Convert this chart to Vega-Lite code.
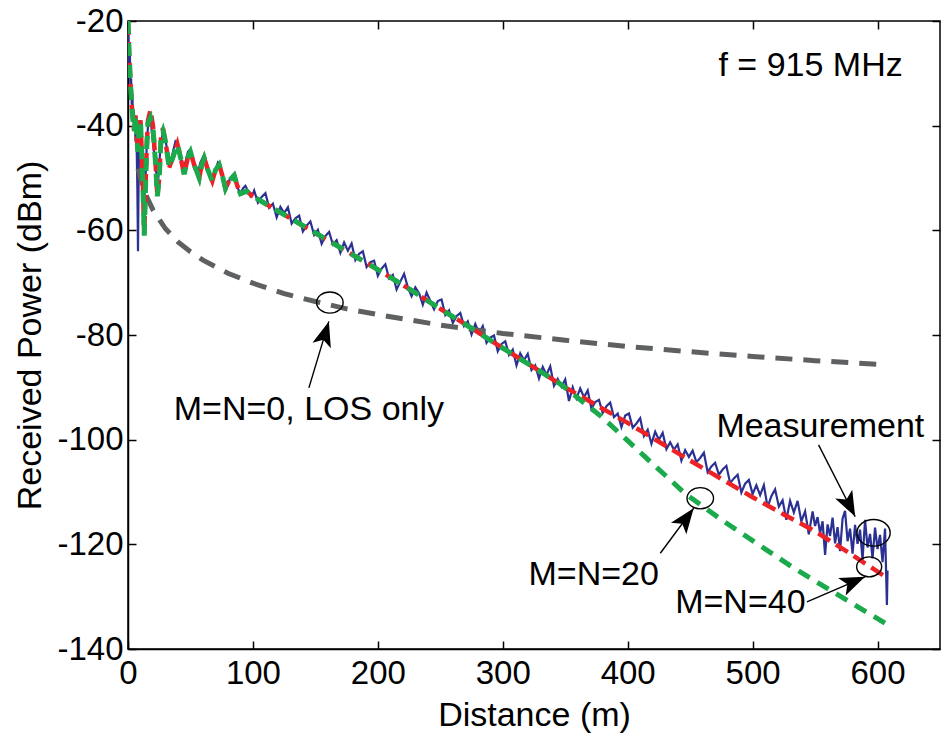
{
  "$schema": "https://vega.github.io/schema/vega-lite/v6.json",
  "width": 812,
  "height": 628,
  "autosize": "none",
  "padding": {"left": 128, "top": 21, "right": 1, "bottom": 96},
  "background": "white",
  "config": {
    "view": {"stroke": "black", "strokeWidth": 1.5},
    "font": "Liberation Sans",
    "axis": {
      "grid": false,
      "domainColor": "black",
      "domainWidth": 1.5,
      "tickColor": "black",
      "tickWidth": 1.5,
      "tickSize": -8,
      "labelFont": "Liberation Sans",
      "labelFontSize": 33,
      "labelColor": "black",
      "titleFont": "Liberation Sans",
      "titleFontSize": 34,
      "titleFontWeight": "normal",
      "titleColor": "black"
    }
  },
  "datasets": {
    "measurement": [
      {"d":0,"p":-20},{"d":0.5,"p":-24},{"d":1,"p":-28},{"d":1.5,"p":-26},{"d":2,"p":-33},{"d":2.5,"p":-31},{"d":3,"p":-36},{"d":3.5,"p":-34},{"d":4,"p":-39},{"d":4.5,"p":-37},{"d":5,"p":-41},{"d":5.5,"p":-38},{"d":6,"p":-43},{"d":6.5,"p":-40},{"d":7,"p":-45},{"d":7.5,"p":-52},{"d":8,"p":-64},{"d":8.5,"p":-50},{"d":9,"p":-42},{"d":10,"p":-39},{"d":11,"p":-43},{"d":12,"p":-47},{"d":13,"p":-55},{"d":14,"p":-50},{"d":15,"p":-44},{"d":16,"p":-40},{"d":17,"p":-38},{"d":18,"p":-38.5},{"d":19,"p":-41},{"d":20,"p":-43},{"d":22,"p":-48},{"d":24,"p":-51},{"d":26,"p":-44},{"d":28,"p":-41},{"d":30,"p":-42.5},{"d":32,"p":-46},{"d":34,"p":-47.5},{"d":36,"p":-45},{"d":38,"p":-43},{"d":40,"p":-43.5},{"d":42,"p":-46},{"d":44,"p":-48},{"d":46,"p":-47},{"d":48,"p":-45},{"d":50,"p":-44.5},{"d":52,"p":-46},{"d":54,"p":-48.5},{"d":56,"p":-49},{"d":58,"p":-47},{"d":60,"p":-46},{"d":62,"p":-46.5},{"d":64,"p":-48},{"d":66,"p":-50},{"d":68,"p":-50.5},{"d":70,"p":-48.5},{"d":72,"p":-47},{"d":74,"p":-47.5},{"d":76,"p":-50},{"d":78,"p":-51.5},{"d":80,"p":-51},{"d":82,"p":-50},{"d":84,"p":-49.5},{"d":86,"p":-50.5},{"d":88,"p":-52},{"d":90,"p":-53},{"d":92,"p":-52},{"d":94,"p":-51.5},{"d":96,"p":-52.5},{"d":98,"p":-53.5},{"d":100,"p":-53},
      {"d":101,"p":-52.4},{"d":104,"p":-54.7},{"d":107,"p":-53.6},{"d":110,"p":-52.9},{"d":113,"p":-55.7},{"d":116,"p":-54.9},{"d":119,"p":-57.5},{"d":122,"p":-55.5},{"d":125,"p":-56.7},{"d":128,"p":-55.6},{"d":131,"p":-58.7},{"d":134,"p":-57.7},{"d":137,"p":-57.2},{"d":140,"p":-60.2},{"d":143,"p":-59.1},{"d":146,"p":-58.3},{"d":149,"p":-60.9},
      {"d":152,"p":-59.9},{"d":155,"p":-62.6},{"d":158,"p":-61.1},{"d":161,"p":-60.3},{"d":164,"p":-62.7},{"d":167,"p":-61.9},{"d":170,"p":-64.3},{"d":173,"p":-62.3},{"d":176,"p":-63.9},{"d":179,"p":-62.5},{"d":182,"p":-65.7},{"d":185,"p":-64.5},{"d":188,"p":-64.0},{"d":191,"p":-67.0},{"d":194,"p":-66.1},{"d":197,"p":-65.8},
      {"d":200,"p":-68.7},{"d":203,"p":-67.3},{"d":206,"p":-66.5},{"d":209,"p":-69.2},{"d":212,"p":-68.5},{"d":215,"p":-71.3},{"d":218,"p":-69.8},{"d":221,"p":-68.3},{"d":224,"p":-70.9},{"d":227,"p":-72.6},{"d":230,"p":-70.9},{"d":233,"p":-72.0},{"d":236,"p":-74.2},{"d":239,"p":-71.9},{"d":242,"p":-73.5},{"d":245,"p":-75.1},{"d":248,"p":-73.5},
      {"d":251,"p":-73.2},{"d":254,"p":-76.2},{"d":257,"p":-75.3},{"d":260,"p":-77.7},{"d":263,"p":-76.4},{"d":266,"p":-75.8},{"d":269,"p":-78.3},{"d":272,"p":-77.4},{"d":275,"p":-79.9},{"d":278,"p":-77.9},{"d":281,"p":-79.6},{"d":284,"p":-78.3},{"d":287,"p":-81.5},{"d":290,"p":-80.5},{"d":293,"p":-80.1},{"d":296,"p":-83.1},{"d":299,"p":-81.7},
      {"d":302,"p":-81.2},{"d":305,"p":-83.8},{"d":308,"p":-82.8},{"d":311,"p":-85.8},{"d":314,"p":-83.5},{"d":317,"p":-84.8},{"d":320,"p":-83.6},{"d":323,"p":-86.7},{"d":326,"p":-85.8},{"d":329,"p":-88.3},{"d":332,"p":-86.1},{"d":335,"p":-87.6},{"d":338,"p":-86.0},{"d":341,"p":-89.7},{"d":344,"p":-88.4},{"d":347,"p":-89.9},
      {"d":350,"p":-88.5},{"d":353,"p":-92.6},{"d":356,"p":-90.0},{"d":359,"p":-92.1},{"d":362,"p":-90.2},{"d":365,"p":-91.9},{"d":368,"p":-90.6},{"d":371,"p":-94.1},{"d":374,"p":-92.8},{"d":377,"p":-92.4},{"d":380,"p":-94.9},{"d":383,"p":-93.6},{"d":386,"p":-92.9},{"d":389,"p":-95.7},{"d":392,"p":-95.0},{"d":395,"p":-97.6},{"d":398,"p":-95.4},
      {"d":401,"p":-95.0},{"d":404,"p":-97.7},{"d":407,"p":-96.9},{"d":410,"p":-95.9},{"d":413,"p":-99.3},{"d":416,"p":-98.1},{"d":419,"p":-100.8},{"d":422,"p":-98.5},{"d":425,"p":-100.0},{"d":428,"p":-98.7},{"d":431,"p":-101.8},{"d":434,"p":-100.5},{"d":437,"p":-101.9},{"d":440,"p":-100.9},{"d":443,"p":-104.0},{"d":446,"p":-102.0},{"d":449,"p":-103.3},
      {"d":452,"p":-102.1},{"d":455,"p":-104.3},{"d":458,"p":-103.5},{"d":461,"p":-102.5},{"d":464,"p":-106.2},{"d":467,"p":-105.1},{"d":470,"p":-104.4},{"d":473,"p":-106.7},{"d":476,"p":-105.7},{"d":479,"p":-105.0},{"d":482,"p":-108.3},{"d":485,"p":-107.4},{"d":488,"p":-106.7},{"d":491,"p":-110.1},{"d":494,"p":-108.4},{"d":497,"p":-107.7},
      {"d":500,"p":-110.4},{"d":503,"p":-108.7},{"d":506,"p":-110.6},{"d":509,"p":-108.7},{"d":512,"p":-112.9},{"d":515,"p":-110.8},{"d":518,"p":-109.5},{"d":521,"p":-112.8},{"d":524,"p":-111.6},{"d":527,"p":-115.3},{"d":530,"p":-111.7},{"d":533,"p":-113.9},{"d":536,"p":-111.7},{"d":539,"p":-115.6},{"d":542,"p":-113.7},{"d":545,"p":-118.1},{"d":548,"p":-113.7},
      {"d":550,"p":-116.5},{"d":552,"p":-114.8},{"d":554,"p":-117.9},{"d":556,"p":-115.6},{"d":558,"p":-122.0},{"d":560,"p":-116.2},{"d":562,"p":-118.4},{"d":564,"p":-114.9},{"d":566,"p":-119.8},{"d":568,"p":-116.7},{"d":570,"p":-121.3},{"d":572,"p":-115.1},{"d":574,"p":-113.6},{"d":576,"p":-119.4},{"d":578,"p":-117.0},{"d":580,"p":-121.8},{"d":582,"p":-116.3},{"d":584,"p":-119.9},{"d":586,"p":-117.2},{"d":588,"p":-123.0},{"d":590,"p":-115.3},{"d":592,"p":-120.6},{"d":594,"p":-118.0},{"d":596,"p":-122.7},{"d":598,"p":-116.8},{"d":600,"p":-120.9},{"d":602,"p":-118.2},{"d":604,"p":-123.4},{"d":606,"p":-117.0},{"d":607.5,"p":-131.6},{"d":608,"p":-125.0}
    ],
    "los": [
      {"d":8,"p":-48.2},{"d":10,"p":-50.1},{"d":15,"p":-53.6},{"d":20,"p":-56.1},{"d":30,"p":-59.7},{"d":40,"p":-62.2},{"d":50,"p":-64.1},{"d":60,"p":-65.7},{"d":80,"p":-68.2},{"d":100,"p":-70.1},{"d":125,"p":-72.1},{"d":150,"p":-73.6},{"d":175,"p":-75.0},{"d":200,"p":-76.1},{"d":250,"p":-78.1},{"d":300,"p":-79.7},{"d":350,"p":-81.0},{"d":400,"p":-82.2},{"d":450,"p":-83.2},{"d":500,"p":-84.1},{"d":550,"p":-84.9},{"d":600,"p":-85.6}
    ],
    "m40": [
      {"d":0,"p":-20},{"d":1,"p":-27},{"d":2,"p":-32},{"d":3,"p":-36},{"d":4,"p":-39},{"d":5,"p":-41},{"d":6,"p":-38},{"d":7,"p":-42},{"d":8,"p":-45},{"d":9,"p":-40},{"d":10,"p":-39},{"d":11,"p":-45},{"d":12,"p":-52},{"d":13,"p":-61},{"d":14,"p":-52},{"d":15,"p":-44},{"d":16,"p":-39},{"d":18,"p":-37},{"d":20,"p":-40},{"d":22,"p":-47},{"d":23.5,"p":-53.5},{"d":25,"p":-50},{"d":26.5,"p":-42},{"d":28,"p":-40.5},{"d":30,"p":-43},{"d":33,"p":-48},{"d":36,"p":-46},{"d":39.5,"p":-43.5},{"d":42,"p":-46},{"d":45,"p":-49.3},{"d":48,"p":-46},{"d":50,"p":-45},{"d":53,"p":-47.5},{"d":57,"p":-50},{"d":59,"p":-47.5},{"d":61,"p":-46.2},{"d":64,"p":-48.5},{"d":67.5,"p":-50.6},{"d":70,"p":-48.5},{"d":73,"p":-47.5},{"d":75.5,"p":-49.5},{"d":78,"p":-52},{"d":81,"p":-50.5},{"d":85,"p":-49.5},{"d":87.5,"p":-51.5},{"d":90,"p":-53},{"d":95,"p":-52.5},{"d":100,"p":-53.5},{"d":125,"p":-57},{"d":150,"p":-60.5},{"d":175,"p":-64},{"d":200,"p":-67.5},{"d":225,"p":-71.2},{"d":250,"p":-75},{"d":275,"p":-78.7},{"d":300,"p":-82.5},{"d":325,"p":-86.2},{"d":350,"p":-90},{"d":375,"p":-93.4},{"d":400,"p":-96.8},{"d":425,"p":-100.4},{"d":450,"p":-104},{"d":475,"p":-107.5},{"d":500,"p":-111},{"d":525,"p":-114.3},{"d":550,"p":-117.5},{"d":575,"p":-121.3},{"d":600,"p":-125.2},{"d":609,"p":-126.6}
    ],
    "m20": [
      {"d":0,"p":-20},{"d":1,"p":-27},{"d":2,"p":-32},{"d":3,"p":-36},{"d":4,"p":-39},{"d":5,"p":-41},{"d":6,"p":-38},{"d":7,"p":-42},{"d":8,"p":-45},{"d":9,"p":-40},{"d":10,"p":-39},{"d":11,"p":-45},{"d":12,"p":-52},{"d":13,"p":-61},{"d":14,"p":-52},{"d":15,"p":-44},{"d":16,"p":-39.5},{"d":18,"p":-38.5},{"d":20,"p":-40.5},{"d":22,"p":-47},{"d":23.5,"p":-53.5},{"d":25,"p":-50},{"d":26.5,"p":-42},{"d":28,"p":-41},{"d":30,"p":-43},{"d":33,"p":-48},{"d":36,"p":-46},{"d":39.5,"p":-43.5},{"d":42,"p":-46},{"d":45,"p":-49.3},{"d":48,"p":-46},{"d":50,"p":-45},{"d":53,"p":-47.5},{"d":57,"p":-50},{"d":59,"p":-47.5},{"d":61,"p":-46.2},{"d":64,"p":-48.5},{"d":67.5,"p":-50.6},{"d":70,"p":-48.5},{"d":73,"p":-47.5},{"d":75.5,"p":-49.5},{"d":78,"p":-52},{"d":81,"p":-50.5},{"d":85,"p":-49.5},{"d":87.5,"p":-51.5},{"d":90,"p":-53},{"d":95,"p":-52.5},{"d":100,"p":-53.5},{"d":125,"p":-57},{"d":150,"p":-60.5},{"d":175,"p":-64},{"d":200,"p":-67.5},{"d":225,"p":-71.2},{"d":250,"p":-75},{"d":275,"p":-78.7},{"d":300,"p":-82.5},{"d":325,"p":-86.2},{"d":345,"p":-89.2},{"d":360,"p":-92},{"d":379,"p":-95.6},{"d":400,"p":-100.2},{"d":414,"p":-103.3},{"d":430,"p":-106.8},{"d":446,"p":-110.3},{"d":475,"p":-115.3},{"d":500,"p":-119.3},{"d":531.5,"p":-124.3},{"d":550,"p":-127},{"d":575,"p":-130.6},{"d":609,"p":-135.5}
    ],
    "notes": [
      {"label":"M=N=0, LOS only","tx":144.8,"ty":-96.2,"ax":144.8,"ay":-90.1,"bx":160.8,"by":-77.4,"cx":161.6,"cy":-73.8},
      {"label":"Measurement","tx":554.2,"ty":-99.4,"ax":552.8,"ay":-101.0,"bx":582.1,"by":-114.7,"cx":596.8,"cy":-117.8},
      {"label":"M=N=20","tx":372.8,"ty":-127.8,"ax":426.1,"ay":-121.7,"bx":452.8,"by":-113.1,"cx":458.1,"cy":-111.2},
      {"label":"M=N=40","tx":490.2,"ty":-133.2,"ax":543.5,"ay":-131.0,"bx":590.0,"by":-126.2,"cx":593.3,"cy":-124.3}
    ],
    "freq": [
      {"label":"f = 915 MHz","tx":546.4,"ty":-30.6}
    ]
  },
  "resolve": {"axis": {"x": "independent", "y": "independent"}},
  "layer": [
    {
      "data": {"name": "measurement"},
      "mark": {"type": "line", "color": "#2b3192", "strokeWidth": 2.2, "clip": true},
      "encoding": {
        "x": {"field": "d", "type": "quantitative", "scale": {"domain": [0, 650], "nice": false, "zero": false},
          "axis": {"orient": "bottom", "values": [0,100,200,300,400,500,600], "title": "Distance (m)", "labelPadding": 16, "titlePadding": 8, "labelFlush": false}},
        "y": {"field": "p", "type": "quantitative", "scale": {"domain": [-140, -20], "nice": false, "zero": false},
          "axis": {"orient": "left", "values": [-140,-120,-100,-80,-60,-40,-20], "labelExpr": "toString(datum.value)", "title": "Received Power (dBm)", "labelPadding": 13, "titlePadding": 9, "labelFlush": false}}
      }
    },
    {
      "data": {"name": "los"},
      "mark": {"type": "line", "color": "#5f6062", "strokeWidth": 5, "strokeDash": [17, 11], "clip": true},
      "encoding": {
        "x": {"field": "d", "type": "quantitative", "axis": {"orient": "top", "values": [0,100,200,300,400,500,600], "labels": false, "title": null, "domain": false}},
        "y": {"field": "p", "type": "quantitative", "axis": {"orient": "right", "values": [-140,-120,-100,-80,-60,-40,-20], "labels": false, "title": null, "domain": false}}
      }
    },
    {
      "data": {"name": "m40"},
      "mark": {"type": "line", "color": "#ec2227", "strokeWidth": 4.5, "strokeDash": [14, 7], "clip": true},
      "encoding": {
        "x": {"field": "d", "type": "quantitative", "axis": null},
        "y": {"field": "p", "type": "quantitative", "axis": null}
      }
    },
    {
      "data": {"name": "m20"},
      "mark": {"type": "line", "color": "#1aaa4c", "strokeWidth": 5, "strokeDash": [13, 9], "clip": true},
      "encoding": {
        "x": {"field": "d", "type": "quantitative", "axis": null},
        "y": {"field": "p", "type": "quantitative", "axis": null}
      }
    },
    {
      "data": {"name": "notes"},
      "mark": {"type": "rule", "color": "black", "strokeWidth": 1.4},
      "encoding": {
        "x": {"field": "ax", "type": "quantitative", "axis": null},
        "y": {"field": "ay", "type": "quantitative", "axis": null},
        "x2": {"field": "bx"},
        "y2": {"field": "by"}
      }
    },
    {
      "data": {"name": "notes"},
      "transform": [{"filter": "datum.label === 'M=N=0, LOS only'"}],
      "mark": {"type": "point", "shape": "M0,0 L0.8,2.1 L0,1.6 L-0.8,2.1 Z", "filled": true, "color": "black", "opacity": 1, "size": 576, "angle": 16.7, "strokeWidth": 0},
      "encoding": {
        "x": {"field": "bx", "type": "quantitative", "axis": null},
        "y": {"field": "by", "type": "quantitative", "axis": null}
      }
    },
    {
      "data": {"name": "notes"},
      "transform": [{"filter": "datum.label === 'Measurement'"}],
      "mark": {"type": "point", "shape": "M0,0 L0.8,2.1 L0,1.6 L-0.8,2.1 Z", "filled": true, "color": "black", "opacity": 1, "size": 576, "angle": 152.9, "strokeWidth": 0},
      "encoding": {
        "x": {"field": "bx", "type": "quantitative", "axis": null},
        "y": {"field": "by", "type": "quantitative", "axis": null}
      }
    },
    {
      "data": {"name": "notes"},
      "transform": [{"filter": "datum.label === 'M=N=20'"}],
      "mark": {"type": "point", "shape": "M0,0 L0.8,2.1 L0,1.6 L-0.8,2.1 Z", "filled": true, "color": "black", "opacity": 1, "size": 576, "angle": 36.5, "strokeWidth": 0},
      "encoding": {
        "x": {"field": "bx", "type": "quantitative", "axis": null},
        "y": {"field": "by", "type": "quantitative", "axis": null}
      }
    },
    {
      "data": {"name": "notes"},
      "transform": [{"filter": "datum.label === 'M=N=40'"}],
      "mark": {"type": "point", "shape": "M0,0 L0.8,2.1 L0,1.6 L-0.8,2.1 Z", "filled": true, "color": "black", "opacity": 1, "size": 576, "angle": 66.8, "strokeWidth": 0},
      "encoding": {
        "x": {"field": "bx", "type": "quantitative", "axis": null},
        "y": {"field": "by", "type": "quantitative", "axis": null}
      }
    },
    {
      "data": {"name": "notes"},
      "transform": [{"filter": "datum.label === 'M=N=0, LOS only' || datum.label === 'M=N=20'"}],
      "mark": {"type": "point", "shape": "M-1.25,0 A1.25,1 0 1,1 1.25,0 A1.25,1 0 1,1 -1.25,0 Z", "filled": false, "color": "black", "opacity": 1, "size": 450, "strokeWidth": 1.4},
      "encoding": {
        "x": {"field": "cx", "type": "quantitative", "axis": null},
        "y": {"field": "cy", "type": "quantitative", "axis": null}
      }
    },
    {
      "data": {"name": "notes"},
      "transform": [{"filter": "datum.label === 'Measurement'"}],
      "mark": {"type": "point", "shape": "M-1.25,0 A1.25,1 0 1,1 1.25,0 A1.25,1 0 1,1 -1.25,0 Z", "filled": false, "color": "black", "opacity": 1, "size": 708, "strokeWidth": 1.4},
      "encoding": {
        "x": {"field": "cx", "type": "quantitative", "axis": null},
        "y": {"field": "cy", "type": "quantitative", "axis": null}
      }
    },
    {
      "data": {"name": "notes"},
      "transform": [{"filter": "datum.label === 'M=N=40'"}],
      "mark": {"type": "point", "shape": "M-1.25,0 A1.25,1 0 1,1 1.25,0 A1.25,1 0 1,1 -1.25,0 Z", "filled": false, "color": "black", "opacity": 1, "size": 400, "strokeWidth": 1.4},
      "encoding": {
        "x": {"field": "cx", "type": "quantitative", "axis": null},
        "y": {"field": "cy", "type": "quantitative", "axis": null}
      }
    },
    {
      "data": {"name": "notes"},
      "mark": {"type": "text", "font": "Liberation Sans", "fontSize": 34, "color": "black", "align": "center", "baseline": "alphabetic"},
      "encoding": {
        "x": {"field": "tx", "type": "quantitative", "axis": null},
        "y": {"field": "ty", "type": "quantitative", "axis": null},
        "text": {"field": "label"}
      }
    },
    {
      "data": {"name": "freq"},
      "mark": {"type": "text", "font": "Liberation Sans", "fontSize": 34, "color": "black", "align": "center", "baseline": "alphabetic"},
      "encoding": {
        "x": {"field": "tx", "type": "quantitative", "axis": null},
        "y": {"field": "ty", "type": "quantitative", "axis": null},
        "text": {"field": "label"}
      }
    }
  ]
}
